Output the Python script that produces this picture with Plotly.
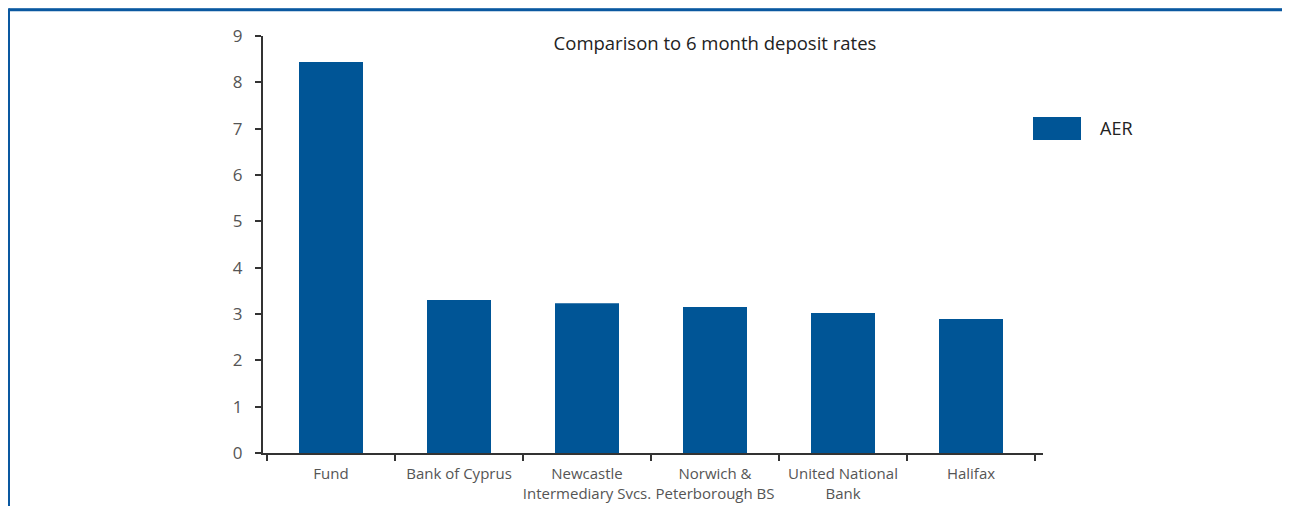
import plotly.graph_objects as go

categories = ["Fund", "Bank of Cyprus", "Newcastle<br>Intermediary Svcs.",
              "Norwich &<br>Peterborough BS", "United National<br>Bank", "Halifax"]
aer_values = [8.44, 3.30, 3.23, 3.15, 3.02, 2.89]
series_name = "AER"
y_ticks = [0, 1, 2, 3, 4, 5, 6, 7, 8, 9]

BLUE = "#005596"
FONT = "Open Sans"

fig = go.Figure()
fig.add_trace(go.Bar(x=categories, y=aer_values, name=series_name,
                     marker=dict(color=BLUE, line=dict(width=0)),
                     showlegend=False))

# page offset (browser default body margin)
OFF = 8
# plot area in screen pixels
L, R, T, B = 263, 1043, 36, 453
W, H = R - L, B - T
def px(x): return (x - L) / W
def py(y): return (B - y) / H

shapes = [
    # frame (top and left border)
    dict(type="line", xref="paper", yref="paper", x0=px(8.5), x1=px(1300), y0=py(8), y1=py(8),
         line=dict(color="#8fb3d6", width=1), layer="above"),
    dict(type="line", xref="paper", yref="paper", x0=px(8.5), x1=px(1300), y0=py(9.7), y1=py(9.7),
         line=dict(color="#0a58a0", width=3), layer="above"),
    dict(type="line", xref="paper", yref="paper", x0=px(8.5), x1=px(8.5), y0=py(8.5), y1=py(520),
         line=dict(color="#0a58a0", width=3), layer="above"),
    # legend swatch
    dict(type="rect", xref="paper", yref="paper", x0=px(1033), x1=px(1081), y0=py(117), y1=py(140),
         fillcolor=BLUE, line=dict(width=0)),
]

FW, FH = 1290, 506
fig.update_layout(
    width=FW, height=FH,
    margin=dict(l=L - OFF, r=FW - (R - OFF), t=T - OFF, b=FH - (B - OFF)),
    paper_bgcolor="white", plot_bgcolor="white",
    bargap=0.5,
    font=dict(family=FONT, color="#555555", size=15),
    title=dict(text="Comparison to 6 month deposit rates", x=(715 - OFF) / FW, xanchor="center",
               y=1 - (44 - OFF) / FH, yanchor="middle",
               font=dict(family=FONT, size=18.5, color="#222222")),
    shapes=shapes,
    annotations=[dict(text=series_name, xref="paper", yref="paper", x=px(1098), y=py(128.5),
                      xanchor="left", yanchor="middle", showarrow=False,
                      font=dict(family=FONT, size=18, color="#222222"))],
    showlegend=False,
)
x0 = -0.5 - 4 / 128
fig.update_xaxes(range=[x0, x0 + W / 128], showline=True, linecolor="#333333", linewidth=2,
                 ticks="outside", tickson="boundaries", ticklen=6, tickwidth=2, tickcolor="#333333",
                 showgrid=False, zeroline=False, tickangle=0, automargin=False,
                 ticklabelstandoff=6,
                 tickfont=dict(size=15, color="#555555"))
fig.update_yaxes(range=[0, 9], tickvals=y_ticks, showline=True, linecolor="#333333", linewidth=2,
                 ticks="outside", ticklen=6, tickwidth=2, tickcolor="#333333",
                 showgrid=False, zeroline=False, ticklabelstandoff=9, automargin=False,
                 tickfont=dict(size=17, color="#555555"))

fig.write_html("out.html")
